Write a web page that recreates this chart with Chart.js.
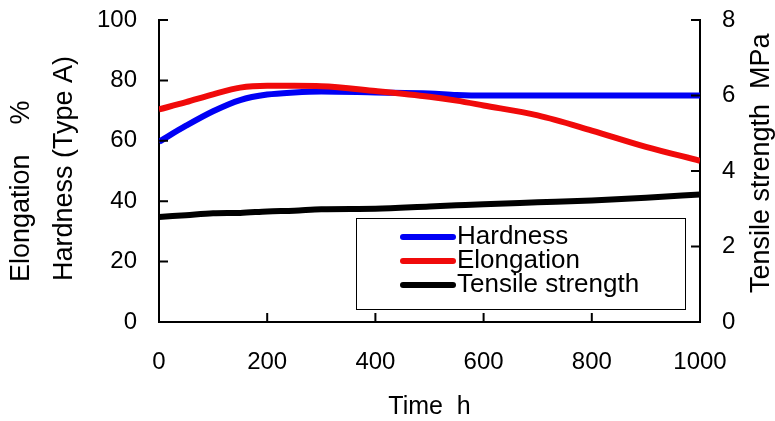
<!DOCTYPE html>
<html>
<head>
<meta charset="utf-8">
<script src="https://cdn.jsdelivr.net/npm/chart.js@4.4.1/dist/chart.umd.min.js"></script>
<style>
  html, body { margin: 0; padding: 0; background: #fff; }
</style>
</head>
<body>
<canvas id="aging-chart" width="775" height="421"></canvas>
<script>
// AGING TEST DATA
var times = [0, 50, 100, 150, 200, 250, 300, 400, 500, 550, 600, 700, 800, 900, 1000];
var hardness = [59.7, 65, 69.8, 73.5, 75.3, 76, 76.3, 76, 75.7, 75.2, 75, 75, 75, 75, 75];
var elongation = [70.4, 72.8, 75.4, 77.6, 78.2, 78.2, 78.1, 76.5, 74.6, 73.3, 71.7, 68.4, 63.4, 58, 53.4];
var tensile = [2.78, 2.83, 2.88, 2.89, 2.93, 2.95, 2.99, 3.0, 3.06, 3.09, 3.12, 3.17, 3.22, 3.29, 3.38];
var xTicks = [0, 200, 400, 600, 800, 1000];

function toPoints(values) {
  return times.map(function (t, i) { return { x: t, y: values[i] }; });
}

var FONT = "'Liberation Sans', Arial, sans-serif";

// ticks that point into the plot, axis titles and the boxed legend
var decorations = {
  id: "decorations",
  afterDraw: function (chart) {
    var c = chart.ctx;
    var a = chart.chartArea;
    var sx = chart.scales.x, sy = chart.scales.y, sy2 = chart.scales.y2;
    c.save();
    c.strokeStyle = "#000";
    c.lineWidth = 2;
    c.beginPath();
    sx.ticks.forEach(function (t, i) {
      var px = sx.getPixelForTick(i);
      c.moveTo(px, a.bottom); c.lineTo(px, a.bottom - 9);
    });
    sy.ticks.forEach(function (t, i) {
      var py = sy.getPixelForTick(i);
      c.moveTo(a.left, py); c.lineTo(a.left + 9, py);
    });
    sy2.ticks.forEach(function (t, i) {
      var py = sy2.getPixelForTick(i);
      c.moveTo(a.right, py); c.lineTo(a.right - 9, py);
    });
    c.stroke();

    // axis titles
    c.fillStyle = "#000";
    c.font = "25px " + FONT;
    c.textAlign = "center";
    c.textBaseline = "middle";
    c.fillText("Time  h", (a.left + a.right) / 2, 407);

    c.font = "27px " + FONT;
    c.textAlign = "left";
    [["Elongation    %", 22, 282], ["Hardness (Type A)", 65, 281], ["Tensile strength  MPa", 762, 293]].forEach(function (tt) {
      c.save();
      c.translate(tt[1], tt[2]);
      c.rotate(-Math.PI / 2);
      c.fillText(tt[0], 0, 0);
      c.restore();
    });

    // legend
    c.fillStyle = "#fff";
    c.fillRect(356.5, 218.5, 329, 91);
    c.lineWidth = 1;
    c.strokeRect(356.5, 218.5, 329, 91);
    c.font = "26px " + FONT;
    c.textAlign = "left";
    chart.data.datasets.forEach(function (ds, i) {
      var y = 237 + i * 24;
      c.strokeStyle = ds.borderColor;
      c.lineWidth = 6;
      c.lineCap = "round";
      c.beginPath();
      c.moveTo(403, y); c.lineTo(453, y);
      c.stroke();
      c.fillStyle = "#000";
      c.fillText(ds.label, 457, y);
    });
    c.restore();
  }
};

var plain = function (v) { return String(v); };
var noPad = function (scale) { scale.paddingTop = 0; scale.paddingBottom = 0; scale.paddingLeft = 0; scale.paddingRight = 0; };

var ctx = document.getElementById("aging-chart").getContext("2d");
var myAgingChart = new Chart(ctx, {
  type: "line",
  data: {
    datasets: [
      { label: "Hardness", data: toPoints(hardness), borderColor: "#0000f5", yAxisID: "y", order: 1 },
      { label: "Elongation", data: toPoints(elongation), borderColor: "#f00a0a", yAxisID: "y", order: 0 },
      { label: "Tensile strength", data: toPoints(tensile), borderColor: "#000000", yAxisID: "y2", order: 2 },
    ],
  },
  options: {
    responsive: false,
    animation: false,
    layout: { padding: { top: 20 } },
    elements: {
      line: { borderWidth: 6, cubicInterpolationMode: "monotone", fill: false },
      point: { radius: 0 },
    },
    plugins: {
      legend: { display: false },
      tooltip: { enabled: false },
    },
    scales: {
      x: {
        type: "linear",
        min: 0,
        max: 1000,
        afterBuildTicks: function (scale) {
          scale.ticks = xTicks.map(function (v) { return { value: v }; });
        },
        ticks: { color: "#000", font: { size: 24, family: FONT }, padding: 26, maxRotation: 0, callback: plain },
        grid: { drawOnChartArea: false, drawTicks: false },
        border: { color: "#000", width: 2 },
        afterFit: function (scale) { scale.height = 99; noPad(scale); },
      },
      y: {
        position: "left",
        min: 0,
        max: 100,
        ticks: { stepSize: 20, color: "#000", font: { size: 24, family: FONT }, padding: 22, callback: plain },
        grid: { drawOnChartArea: false, drawTicks: false },
        border: { color: "#000", width: 2 },
        afterFit: function (scale) { scale.width = 159; noPad(scale); },
      },
      y2: {
        position: "right",
        min: 0,
        max: 8,
        ticks: { stepSize: 2, color: "#000", font: { size: 24, family: FONT }, padding: 22, callback: plain },
        grid: { drawOnChartArea: false, drawTicks: false },
        border: { color: "#000", width: 2 },
        afterFit: function (scale) { scale.width = 75; noPad(scale); },
      },
    },
  },
  plugins: [decorations],
});
</script>
</body>
</html>
